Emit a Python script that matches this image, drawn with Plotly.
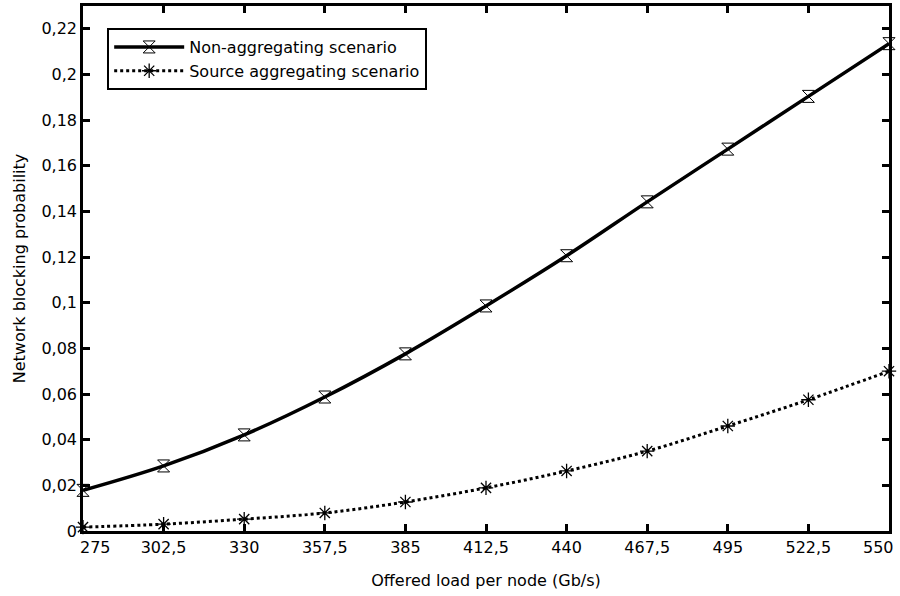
import plotly.graph_objects as go

load = [275, 302.5, 330, 357.5, 385, 412.5, 440, 467.5, 495, 522.5, 550]
non_agg = [0.0178, 0.0285, 0.0421, 0.0587, 0.0776, 0.0986, 0.1206, 0.1442, 0.1673, 0.1904, 0.2135]
src_agg = [0.0017, 0.0030, 0.0052, 0.0079, 0.0127, 0.0189, 0.0263, 0.0350, 0.0460, 0.0575, 0.0700]
xticks = [275, 302.5, 330, 357.5, 385, 412.5, 440, 467.5, 495, 522.5, 550]
yticks = [0, 0.02, 0.04, 0.06, 0.08, 0.1, 0.12, 0.14, 0.16, 0.18, 0.2, 0.22]

font = "DejaVu Sans"
fs = 16

def fmt(v):
    return ("%g" % v).replace(".", ",")

fig = go.Figure()
fig.add_trace(go.Scatter(
    x=load, y=non_agg, name="Non-aggregating scenario", mode="lines+markers",
    line=dict(color="black", width=3.5, shape="spline"),
    marker=dict(symbol="hourglass-open", size=12, color="black", line=dict(width=1)),
    cliponaxis=False))
fig.add_trace(go.Scatter(
    x=load, y=src_agg, name="Source aggregating scenario", mode="lines+markers",
    line=dict(color="black", width=3, dash="dot", shape="spline"),
    marker=dict(symbol="asterisk-open", size=12, color="black", line=dict(width=1.3)),
    cliponaxis=False))

axis_common = dict(showline=True, linecolor="black", linewidth=2.5, mirror="ticks",
                   ticks="inside", ticklen=7, tickwidth=2.5, tickcolor="black",
                   showgrid=False, zeroline=False, automargin=False,
                   tickfont=dict(family=font, size=fs, color="black"))
xtext = [fmt(v) for v in xticks]
xtext[0] = ""
xtext[-1] = ""
fig.update_xaxes(range=[275, 550], tickvals=xticks, ticktext=xtext,
                 title=dict(text="Offered load per node (Gb/s)", font=dict(family=font, size=fs, color="black"), standoff=19),
                 **axis_common)
fig.update_yaxes(range=[0, 0.23], tickvals=yticks,
                 ticktext=[fmt(v) for v in yticks],
                 title=dict(text="Network blocking probability", font=dict(family=font, size=fs, color="black"), standoff=12),
                 **axis_common)
# end tick labels shifted inward as in the reference
for xv, shift in ((xticks[0], 12), (xticks[-1], -11)):
    fig.add_annotation(x=xv, y=0, xref="x", yref="y", text=fmt(xv), showarrow=False,
                       yanchor="top", yshift=-5, xshift=shift,
                       font=dict(family=font, size=fs, color="black"))
fig.update_layout(
    width=900, height=596, plot_bgcolor="white", paper_bgcolor="white",
    margin=dict(l=83, r=11, t=6, b=65),
    legend=dict(x=0.03, y=0.958, xanchor="left", yanchor="top",
                bordercolor="black", borderwidth=2, bgcolor="white",
                font=dict(family=font, size=fs, color="black"),
                tracegroupgap=0, itemwidth=70),
    showlegend=True,
)
fig.write_html("out.html", config={"displayModeBar": False},
               post_script="document.body.style.margin='0px';document.body.style.overflow='hidden';")
